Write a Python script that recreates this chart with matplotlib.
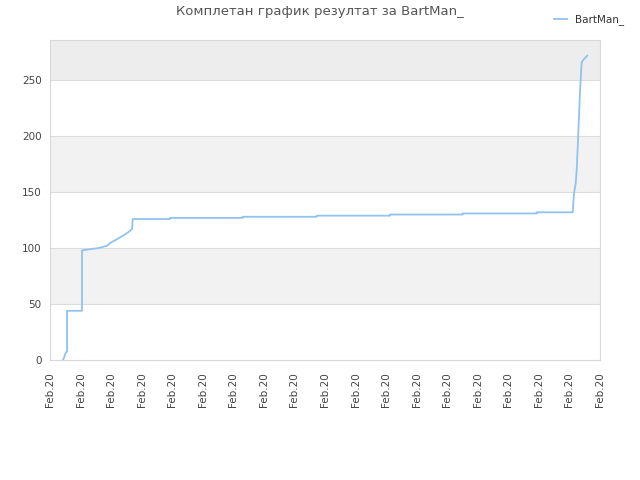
import matplotlib
matplotlib.use('Agg')
import matplotlib.pyplot as plt
import numpy as np

title = 'Комплетан график резултат за BartMan_'
series_name = 'BartMan_'

# x in arbitrary time units (axis spans 0..550), y = score
xs = [13, 14, 16, 17, 17, 32, 32, 40, 48, 57, 60, 70, 78, 82, 82.7,
      120, 120, 192.7, 192.7, 266.7, 266.7, 340, 340, 412.7, 412.7,
      486.7, 486.7, 522.7, 524, 525.7, 526.7, 527.7, 528.7, 529.7,
      531, 531.7, 534, 537.3]
ys = [0, 2, 7, 7.5, 44, 44, 98, 99, 100, 102, 104.5, 109.5, 114, 117, 126,
      126, 127, 127, 128, 128, 129, 129, 130, 130, 131, 131, 132, 132,
      149, 158, 170, 190, 211, 234, 256, 266, 269, 272]
tick_labels = ['Feb.20'] * 19

fig = plt.figure(figsize=(6.4, 4.8), dpi=100)
ax = fig.add_axes([50/640, 120/480, 550/640, 320/480])

ymax = 286
band_colors = ['white', '#f2f2f2', 'white', '#f2f2f2', 'white', '#ededed']
for i, c in enumerate(band_colors):
    ax.axhspan(i*50, (i+1)*50, color=c, zorder=0, lw=0)
for v in range(50, 300, 50):
    ax.axhline(v, color='#dcdcdc', lw=0.8, zorder=1)

ax.plot(xs, ys, color='#90c3f0', lw=1.3, zorder=3, label=series_name)

ax.set_xlim(0, 550)
ax.set_ylim(0, ymax)
ax.set_xticks(np.linspace(0, 550, 19))
ax.set_xticklabels(tick_labels, rotation=90, fontsize=7.5, color='#444444')
ax.set_yticks(range(0, 300, 50))
ax.tick_params(axis='y', labelsize=7.5, labelcolor='#444444', length=0, pad=6)
ax.tick_params(axis='x', length=0, pad=9)
for s in ax.spines.values():
    s.set_color('#d8d8d8')

fig.text(0.5, 0.99, title, ha='center', va='top', fontsize=9.5, color='#555555')
fig.legend(loc='upper right', bbox_to_anchor=(0.99, 0.99), frameon=False,
           fontsize=7.5, handlelength=1.2, labelcolor='#333333')

fig.savefig('out.png', dpi=100)
